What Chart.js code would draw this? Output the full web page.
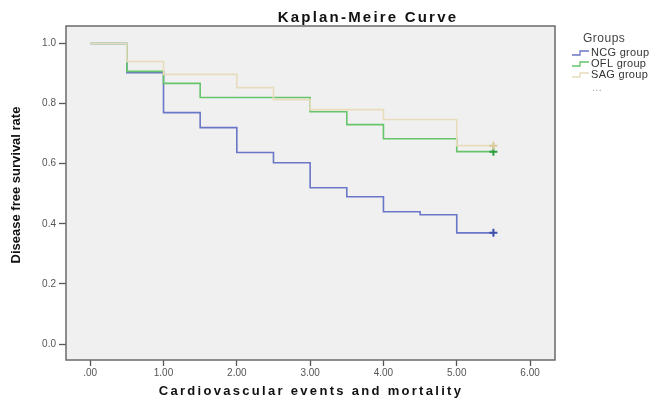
<!DOCTYPE html>
<html>
<head>
<meta charset="utf-8">
<script src="https://cdn.jsdelivr.net/npm/chart.js@4.4.1/dist/chart.umd.min.js"></script>
<style>
  html, body { margin: 0; padding: 0; background: #ffffff; }
  canvas { display: block; }
</style>
</head>
<body>
<canvas id="c" width="661" height="399"></canvas>
<script>
// ---- data ----
const chartTitle = 'Kaplan-Meire Curve';
const xAxisTitle = 'Cardiovascular events and mortality';
const yAxisTitle = 'Disease free survival rate';
const legendTitle = 'Groups';
const seriesNames = ['NCG group', 'OFL group', 'SAG group'];
const xTickLabels = ['.00', '1.00', '2.00', '3.00', '4.00', '5.00', '6.00'];
const yTickLabels = ['0.0', '0.2', '0.4', '0.6', '0.8', '1.0'];

const timesNCG = [0, 0.5, 1, 1.5, 2, 2.5, 3, 3.5, 4, 4.5, 5, 5.5];
const survNCG  = [1, 0.903, 0.77, 0.72, 0.637, 0.603, 0.52, 0.49, 0.44, 0.43, 0.37, 0.37];
const timesOFL = [0, 0.5, 1, 1.5, 3, 3.5, 4, 5, 5.5];
const survOFL  = [1, 0.907, 0.867, 0.82, 0.773, 0.73, 0.683, 0.64, 0.64];
const timesSAG = [0, 0.5, 1, 2, 2.5, 3, 4, 5, 5.5];
const survSAG  = [1, 0.94, 0.897, 0.853, 0.813, 0.78, 0.747, 0.66, 0.66];

const lineColors   = ['#6a76c6', '#66c46a', '#e8dcbc'];
const censorColors = ['#3d4fae', '#2e9e3e', '#d8c89a'];

function toPoints(ts, ss) { return ts.map((t, i) => ({ x: t, y: ss[i] })); }
function censorRadius(ts) { return ts.map((t, i) => (i === ts.length - 1 ? 4 : 0)); }

const seriesTimes = [timesNCG, timesOFL, timesSAG];
const seriesSurv  = [survNCG, survOFL, survSAG];

const datasets = seriesNames.map((name, k) => ({
  label: name,
  data: toPoints(seriesTimes[k], seriesSurv[k]),
  stepped: true,
  borderColor: lineColors[k],
  borderWidth: 1.6,
  fill: false,
  pointStyle: 'cross',
  pointRadius: censorRadius(seriesTimes[k]),
  pointBorderColor: censorColors[k],
  pointBorderWidth: 2,
  pointHoverRadius: 0
})).reverse();

const decor = {
  id: 'decor',
  beforeDraw(chart) {
    const { ctx, chartArea: a } = chart;
    ctx.save();
    ctx.fillStyle = '#ffffff';
    ctx.fillRect(0, 0, chart.width, chart.height);
    ctx.fillStyle = '#f0f0f0';
    ctx.fillRect(a.left, a.top, a.right - a.left, a.bottom - a.top);
    ctx.restore();
  },
  afterDraw(chart) {
    const { ctx, chartArea: a } = chart;
    ctx.save();
    // frame
    ctx.strokeStyle = '#6a6a6a';
    ctx.lineWidth = 1.5;
    ctx.strokeRect(a.left, a.top, a.right - a.left, a.bottom - a.top);

    // title
    ctx.fillStyle = '#111111';
    ctx.textAlign = 'center';
    ctx.textBaseline = 'alphabetic';
    ctx.font = 'bold 15px "Liberation Sans", Arial, sans-serif';
    ctx.letterSpacing = '2.2px';
    ctx.fillText(chartTitle, 368, 22);

    // x axis title
    ctx.font = 'bold 13px "Liberation Sans", Arial, sans-serif';
    ctx.letterSpacing = '2.3px';
    ctx.fillText(xAxisTitle, 311, 395);

    // y axis title
    ctx.letterSpacing = '0px';
    ctx.save();
    ctx.translate(20, 185);
    ctx.rotate(-Math.PI / 2);
    ctx.font = 'bold 13px "Liberation Sans Narrow", "Liberation Sans", Arial, sans-serif';
    ctx.textBaseline = 'alphabetic';
    ctx.fillText(yAxisTitle, 0, 0);
    ctx.restore();

    // legend
    ctx.textAlign = 'left';
    ctx.textBaseline = 'middle';
    ctx.fillStyle = '#444444';
    ctx.font = '12px "Liberation Sans", Arial, sans-serif';
    ctx.letterSpacing = '0.5px';
    ctx.fillText(legendTitle, 583, 39);
    ctx.font = '11px "Liberation Sans", Arial, sans-serif';
    ctx.letterSpacing = '0.3px';
    const rowY = [53, 64, 75];
    seriesNames.forEach((name, k) => {
      const y = rowY[k];
      ctx.strokeStyle = lineColors[k];
      ctx.lineWidth = 1.3;
      ctx.beginPath();
      ctx.moveTo(572, y + 2);
      ctx.lineTo(580, y + 2);
      ctx.lineTo(580, y - 2);
      ctx.lineTo(589, y - 2);
      ctx.stroke();
      ctx.fillStyle = '#333333';
      ctx.fillText(name, 591, y);
    });
    ctx.fillStyle = '#aaaaaa';
    ctx.fillText('...', 592, 88);
    ctx.restore();
  }
};

new Chart(document.getElementById('c'), {
  type: 'line',
  data: { datasets },
  plugins: [decor],
  options: {
    responsive: false,
    animation: false,
    devicePixelRatio: 1,
    layout: { padding: { left: 0, top: 26, right: 106, bottom: 0 } },
    plugins: { legend: { display: false }, tooltip: { enabled: false }, title: { display: false } },
    scales: {
      x: {
        type: 'linear',
        min: -0.33,
        max: 6.34,
        afterBuildTicks: (s) => { s.ticks = xTickLabels.map(l => ({ value: parseFloat(l) })); },
        afterFit: (s) => { s.height = 39; },
        grid: { display: true, drawOnChartArea: false, drawTicks: true, tickLength: 6, tickColor: '#555555', tickWidth: 1.3 },
        border: { display: false },
        ticks: {
          color: '#555555',
          font: { family: '"Liberation Sans", Arial, sans-serif', size: 10 },
          padding: 1,
          maxRotation: 0,
          autoSkip: false,
          callback: (v, i) => xTickLabels[i]
        }
      },
      y: {
        type: 'linear',
        min: -0.053,
        max: 1.058,
        afterBuildTicks: (s) => { s.ticks = yTickLabels.map(l => ({ value: parseFloat(l) })); },
        afterFit: (s) => { s.width = 66; },
        grid: { display: true, drawOnChartArea: false, drawTicks: true, tickLength: 7, tickColor: '#555555', tickWidth: 1.3 },
        border: { display: false },
        ticks: {
          color: '#555555',
          font: { family: '"Liberation Sans", Arial, sans-serif', size: 10 },
          padding: 3,
          autoSkip: false,
          callback: (v, i) => yTickLabels[i]
        }
      }
    }
  }
});
</script>
</body>
</html>
